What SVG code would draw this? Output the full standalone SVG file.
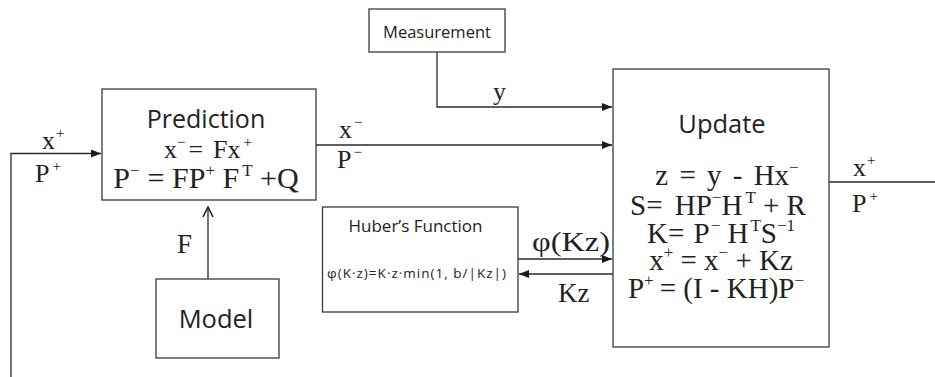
<svg xmlns="http://www.w3.org/2000/svg" width="935" height="377" viewBox="0 0 935 377">
  <style>
    .box { fill: #ffffff; stroke: #3a3a3a; stroke-width: 1.3; }
    .conn { fill: none; stroke: #2a2a2a; stroke-width: 1.3; }
    .sans { font-family: "Open Sans", "Liberation Sans", sans-serif; fill: #222222; }
    .serif { font-family: "Liberation Serif", "Times New Roman", serif; fill: #222222; }
    .mid { text-anchor: middle; }
  </style>
  <defs>
    <marker id="arr" viewBox="0 0 10 8" refX="10" refY="4" markerWidth="10" markerHeight="8" markerUnits="userSpaceOnUse" orient="auto">
      <path d="M0,0 L10,4 L0,8 Z" fill="#1a1a1a"/>
    </marker>
    <marker id="open" viewBox="0 0 12 12" refX="11" refY="6" markerWidth="12" markerHeight="12" markerUnits="userSpaceOnUse" orient="auto">
      <path d="M1,1 L11,6 L1,11" fill="none" stroke="#1a2533" stroke-width="1.6"/>
    </marker>
  </defs>

  <g id="connectors">
    <path class="conn" d="M11,377 V153.5 H101" marker-end="url(#arr)"/>
    <path class="conn" d="M316,145 H612" marker-end="url(#arr)"/>
    <path class="conn" d="M437,52 V107 H612" marker-end="url(#arr)"/>
    <path class="conn" d="M829,182 H935" stroke="#777777"/>
    <path class="conn" d="M518,259 H612" marker-end="url(#arr)"/>
    <path class="conn" d="M613,274 H519" marker-end="url(#arr)"/>
    <path class="conn" d="M208,279 V207" stroke="#1a2533" stroke-width="1.6" marker-end="url(#open)"/>
    <g class="serif" font-size="26">
      <text x="42" y="149">x<tspan font-size="15" dy="-11" dx="1">+</tspan></text>
      <text x="35" y="182">P<tspan font-size="15" dy="-11" dx="3">+</tspan></text>
      <text x="339" y="138">x<tspan font-size="15" dy="-11" dx="2">−</tspan></text>
      <text x="337" y="168">P<tspan font-size="15" dy="-11" dx="2">−</tspan></text>
      <text x="493" y="100">y</text>
      <text x="853" y="176">x<tspan font-size="15" dy="-11" dx="1">+</tspan></text>
      <text x="852" y="212">P<tspan font-size="15" dy="-11" dx="3">+</tspan></text>
      <text x="177" y="253" font-size="27">F</text>
      <text x="532" y="251" font-size="28" textLength="78" lengthAdjust="spacingAndGlyphs">φ(Kz)</text>
      <text x="558" y="302" font-size="27">Kz</text>
    </g>
  </g>

  <g id="prediction">
    <rect class="box" x="102" y="89" width="214" height="111"/>
    <text class="sans mid" x="206" y="128" font-size="25">Prediction</text>
    <text class="serif mid" x="208" y="158" font-size="26">x<tspan font-size="15" dy="-11">−</tspan><tspan dy="11" dx="3">=</tspan><tspan dx="10">Fx</tspan><tspan font-size="15" dy="-11" dx="3">+</tspan></text>
    <text class="serif mid" x="206" y="188" font-size="30">P<tspan font-size="17" dy="-12">−</tspan><tspan dy="12" dx="8">= FP</tspan><tspan font-size="17" dy="-12">+</tspan><tspan dy="12"> F</tspan><tspan font-size="17" dy="-12" dx="3">T</tspan><tspan dy="12"> +Q</tspan></text>
  </g>

  <g id="measurement">
    <rect class="box" x="369" y="9" width="136" height="43"/>
    <text class="sans mid" x="437" y="38" font-size="16.5">Measurement</text>
  </g>

  <g id="update">
    <rect class="box" x="613" y="69" width="216" height="278"/>
    <text class="sans mid" x="722" y="133" font-size="25.5">Update</text>
    <g class="serif mid" font-size="29">
      <text x="727" y="185" word-spacing="4">z = y - Hx<tspan font-size="17" dy="-12">−</tspan></text>
      <text x="718" y="215">S= <tspan dx="5">HP</tspan><tspan font-size="17" dy="-12">−</tspan><tspan dy="12">H</tspan><tspan font-size="17" dy="-12" dx="3">T</tspan><tspan dy="12"> + R</tspan></text>
      <text x="721" y="243">K= <tspan dx="2">P</tspan><tspan font-size="17" dy="-12" dx="1">−</tspan><tspan dy="12"> H</tspan><tspan font-size="17" dy="-12" dx="2">T</tspan><tspan dy="12">S</tspan><tspan font-size="17" dy="-12">−1</tspan></text>
      <text x="721" y="270">x<tspan font-size="17" dy="-12">+</tspan><tspan dy="12"> = x</tspan><tspan font-size="17" dy="-12">−</tspan><tspan dy="12"> + Kz</tspan></text>
      <text x="716" y="298">P<tspan font-size="17" dy="-12">+</tspan><tspan dy="12" dx="6">= (I - KH)P</tspan><tspan font-size="17" dy="-12">−</tspan></text>
    </g>
  </g>

  <g id="huber">
    <rect class="box" x="322.5" y="207" width="195.5" height="105"/>
    <text class="sans mid" x="415.5" y="232" font-size="17">Huber’s Function</text>
    <text class="sans mid" x="416.5" y="278" font-size="13.5" textLength="179" lengthAdjust="spacing">φ(K·z)=K·z·min(1, b/|Kz|)</text>
  </g>

  <g id="model">
    <rect class="box" x="156" y="279" width="123" height="79"/>
    <text class="sans mid" x="216" y="328" font-size="25.5">Model</text>
  </g>
</svg>
